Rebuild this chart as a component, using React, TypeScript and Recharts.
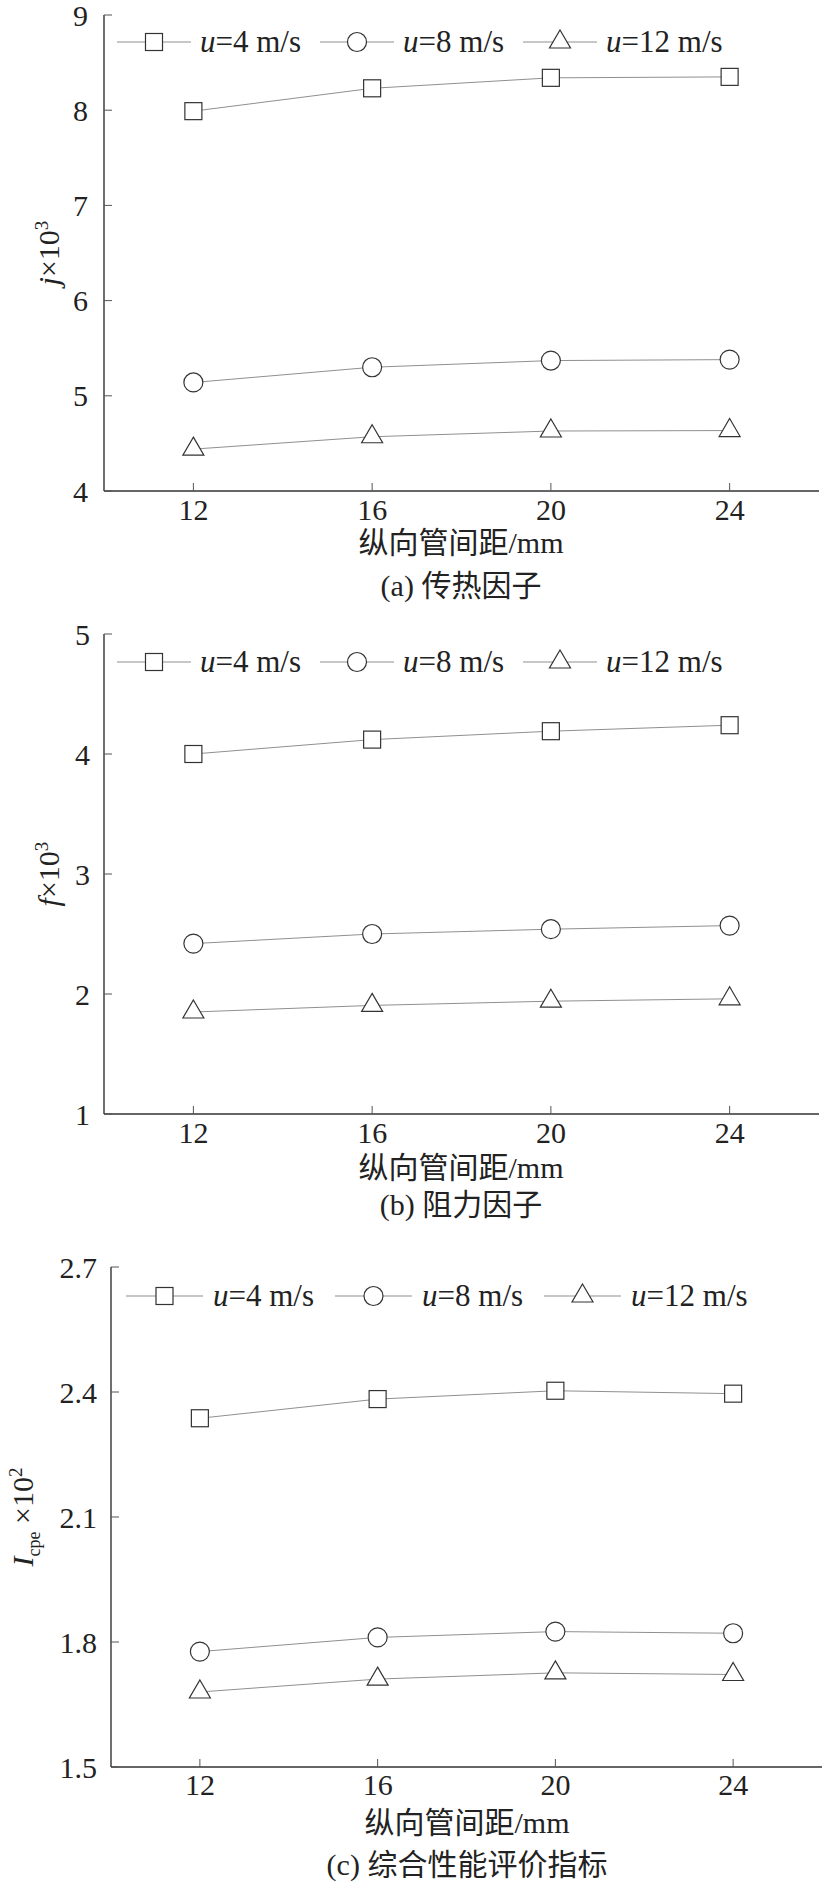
import React from 'react';
import { LineChart, Line, XAxis, YAxis } from 'recharts';

// longitudinal tube spacing (mm) and the three air velocities (m/s)
const spacing = [12, 16, 20, 24];
const speeds = [4, 8, 12];
const shapes = ['square', 'circle', 'triangle'];
const xTicks = [12, 16, 20, 24];

// (a) heat transfer factor j x 10^3
const jU4 = [7.99, 8.23, 8.34, 8.35];
const jU8 = [5.14, 5.30, 5.37, 5.38];
const jU12 = [4.44, 4.57, 4.63, 4.635];
const jTicks = [4, 5, 6, 7, 8, 9];

// (b) friction factor f x 10^3
const fU4 = [4.0, 4.12, 4.19, 4.24];
const fU8 = [2.42, 2.50, 2.54, 2.57];
const fU12 = [1.85, 1.905, 1.94, 1.96];
const fTicks = [1, 2, 3, 4, 5];

// (c) overall performance index I_cpe x 10^2
const iU4 = [2.337, 2.383, 2.403, 2.396];
const iU8 = [1.777, 1.811, 1.825, 1.821];
const iU12 = [1.68, 1.711, 1.726, 1.722];
const iTicks = [1.5, 1.8, 2.1, 2.4, 2.7];

const SERIF = "'Liberation Serif', Tinos, 'DejaVu Serif', 'Noto Sans CJK SC', serif";
const LINE_COLOR = '#8f8f8f';
const MARK_COLOR = '#333';
const AXIS_COLOR = '#333';

const toRows = (a: number[], b: number[], c: number[]) =>
    spacing.map((x, i) => ({ x, s0: a[i], s1: b[i], s2: c[i] }));

const Marker = ({ shape, cx, cy }: { shape: string; cx: number; cy: number }) => {
    if (shape === 'square') {
        return <rect x={cx - 8.5} y={cy - 8.5} width={17} height={17} fill="#fff" stroke={MARK_COLOR} strokeWidth={1.2} />;
    }
    if (shape === 'circle') {
        return <circle cx={cx} cy={cy} r={9.5} fill="#fff" stroke={MARK_COLOR} strokeWidth={1.2} />;
    }
    const w = 21, h = 18;
    const pts = `${cx},${cy - (2 * h) / 3} ${cx + w / 2},${cy + h / 3} ${cx - w / 2},${cy + h / 3}`;
    return <polygon points={pts} fill="#fff" stroke={MARK_COLOR} strokeWidth={1.2} />;
};

const SpeedLegend = ({ left, top, lineLen, textGap, itemGap }: any) => (
    <div style={{ position: 'absolute', left, top, display: 'flex', alignItems: 'center', fontFamily: SERIF, fontSize: 31, color: '#222' }}>
        {speeds.map((u, i) => (
            <div key={u} style={{ display: 'flex', alignItems: 'center', marginRight: itemGap }}>
                <svg width={lineLen} height={26} style={{ display: 'block' }}>
                    <line x1={0} y1={13} x2={lineLen} y2={13} stroke={LINE_COLOR} strokeWidth={1} />
                    <Marker shape={shapes[i]} cx={lineLen / 2} cy={13} />
                </svg>
                <span style={{ marginLeft: textGap, lineHeight: '26px', whiteSpace: 'nowrap' }}>
                    <i>u</i>={u} m/s
                </span>
            </div>
        ))}
    </div>
);

const CenterText = ({ text, cx, cy }: { text: string; cx: number; cy: number }) => (
    <div style={{ position: 'absolute', left: cx - 300, top: cy - 15, width: 600, height: 30, lineHeight: '30px', textAlign: 'center', fontFamily: SERIF, fontSize: 30, color: '#222', whiteSpace: 'nowrap' }}>
        {text}
    </div>
);

interface PanelProps {
    rows: any[];
    yTicks: number[];
    yTitle: (cy: number) => React.ReactNode;
    chartTop: number;
    plotTop: number;
    plotBottom: number;
    plotLeft: number;
    plotRight: number;
    xMargin: number;
    yMargin: number;
}

const Panel = ({ rows, yTicks, yTitle, chartTop, plotTop, plotBottom, plotLeft, plotRight, xMargin, yMargin }: PanelProps) => {
    const axisH = 40;
    const height = plotBottom - chartTop + axisH;
    const tickStyle = { fontFamily: SERIF, fontSize: 30, fill: '#222' };
    const yDomain = [yTicks[0], yTicks[yTicks.length - 1]];
    return (
        <div style={{ position: 'absolute', left: 0, top: chartTop }}>
            <LineChart
                width={825}
                height={height}
                data={rows}
                margin={{ top: plotTop - chartTop, right: 825 - plotRight, bottom: 0, left: 0 }}
            >
                <XAxis
                    dataKey="x"
                    type="number"
                    domain={[10, 26]}
                    ticks={xTicks}
                    interval={0}
                    height={axisH}
                    tickSize={-8}
                    tickMargin={xMargin}
                    tick={tickStyle}
                    axisLine={{ stroke: AXIS_COLOR, strokeWidth: 1.4 }}
                    tickLine={{ stroke: '#555', strokeWidth: 1 }}
                />
                <XAxis xAxisId="top" orientation="top" dataKey="x" type="number" domain={[10, 26]} height={0} tick={false} tickLine={false} axisLine={{ stroke: AXIS_COLOR, strokeWidth: 1.4 }} />
                <YAxis
                    type="number"
                    domain={yDomain}
                    ticks={yTicks}
                    interval={0}
                    width={plotLeft}
                    tickSize={-8}
                    tickMargin={yMargin}
                    tick={tickStyle}
                    axisLine={{ stroke: AXIS_COLOR, strokeWidth: 1.4 }}
                    tickLine={{ stroke: '#555', strokeWidth: 1 }}
                    label={{ content: (p: any) => yTitle(p.viewBox.y + p.viewBox.height / 2) }}
                />
                <YAxis yAxisId="right" orientation="right" type="number" domain={yDomain} width={0} tick={false} tickLine={false} axisLine={{ stroke: AXIS_COLOR, strokeWidth: 1.4 }} />
                {shapes.map((shape, i) => (
                    <Line
                        key={shape}
                        dataKey={`s${i}`}
                        name={`u=${speeds[i]} m/s`}
                        stroke={LINE_COLOR}
                        strokeWidth={1}
                        isAnimationActive={false}
                        activeDot={false}
                        dot={(p: any) => <Marker key={`${shape}-${p.index}`} shape={shape} cx={p.cx} cy={p.cy} />}
                    />
                ))}
            </LineChart>
        </div>
    );
};

const titleProps = { fontFamily: SERIF, fontSize: 30, fill: '#222', textAnchor: 'middle' as const };

const jTitle = (cy: number) => (
    <text x={59} y={cy} transform={`rotate(-90, 59, ${cy})`} {...titleProps}>
        <tspan fontStyle="italic">j</tspan>
        <tspan>×10</tspan>
        <tspan dy={-11} fontSize={19}>3</tspan>
    </text>
);

const fTitle = (cy: number) => (
    <text x={59} y={cy} transform={`rotate(-90, 59, ${cy})`} {...titleProps}>
        <tspan fontStyle="italic">f</tspan>
        <tspan>×10</tspan>
        <tspan dy={-11} fontSize={19}>3</tspan>
    </text>
);

const iTitle = (cy: number) => (
    <text x={33} y={cy} transform={`rotate(-90, 33, ${cy})`} {...titleProps}>
        <tspan fontStyle="italic">I</tspan>
        <tspan dy={7} fontSize={18}>cpe</tspan>
        <tspan dy={-7}> ×10</tspan>
        <tspan dy={-11} fontSize={19}>2</tspan>
    </text>
);

export default function App() {
    return (
        <div style={{ position: 'absolute', left: 0, top: 0, width: 825, height: 1885, background: '#fff', overflow: 'hidden' }}>
            <Panel rows={toRows(jU4, jU8, jU12)} yTicks={jTicks} yTitle={jTitle}
                chartTop={0} plotTop={15} plotBottom={491} plotLeft={104} plotRight={819} xMargin={16} yMargin={24} />
            <SpeedLegend left={117} top={29} lineLen={74} textGap={9} itemGap={19} />
            <CenterText text="纵向管间距/mm" cx={461} cy={543} />
            <CenterText text="(a) 传热因子" cx={461} cy={586} />

            <Panel rows={toRows(fU4, fU8, fU12)} yTicks={fTicks} yTitle={fTitle}
                chartTop={600} plotTop={634} plotBottom={1114} plotLeft={104} plotRight={819} xMargin={16} yMargin={22} />
            <SpeedLegend left={117} top={649} lineLen={74} textGap={9} itemGap={19} />
            <CenterText text="纵向管间距/mm" cx={461} cy={1168} />
            <CenterText text="(b) 阻力因子" cx={461} cy={1205} />

            <Panel rows={toRows(iU4, iU8, iU12)} yTicks={iTicks} yTitle={iTitle}
                chartTop={1235} plotTop={1267} plotBottom={1767} plotLeft={111} plotRight={822} xMargin={15} yMargin={22} />
            <SpeedLegend left={126} top={1283} lineLen={77} textGap={10} itemGap={21} />
            <CenterText text="纵向管间距/mm" cx={467} cy={1823} />
            <CenterText text="(c) 综合性能评价指标" cx={467} cy={1865} />
        </div>
    );
}
